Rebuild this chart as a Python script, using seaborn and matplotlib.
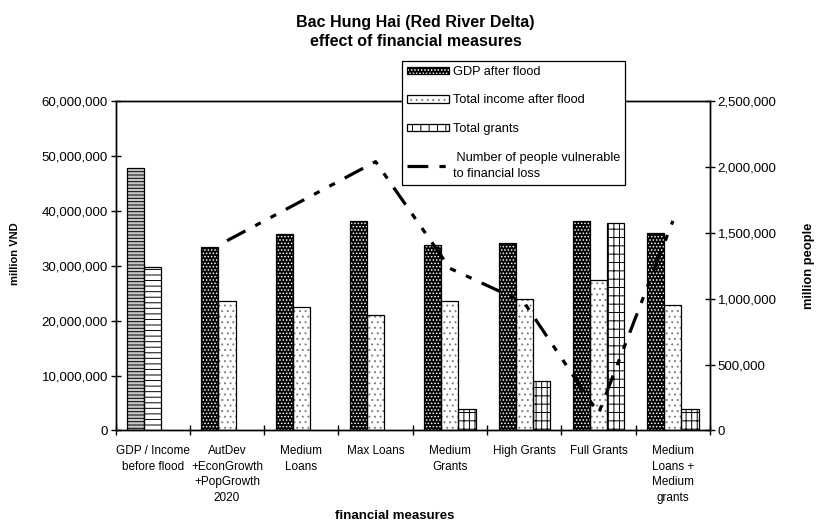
import numpy as np
import pandas as pd
import matplotlib
matplotlib.use("Agg")
import matplotlib.pyplot as plt
import seaborn as sns
from matplotlib.patches import Rectangle, Patch
from matplotlib.lines import Line2D
from matplotlib.legend_handler import HandlerTuple
from matplotlib.ticker import FuncFormatter, FixedLocator

sns.set_theme(style="white")
plt.rcParams["font.family"] = ["Liberation Sans", "DejaVu Sans"]
plt.rcParams["hatch.linewidth"] = 0.7
plt.rcParams["lines.scale_dashes"] = False

# ---- data -------------------------------------------------------------
categories = [
    "GDP / Income\nbefore flood",
    "AutDev\n+EconGrowth\n+PopGrowth\n2020",
    "Medium\nLoans",
    "Max Loans",
    "Medium\nGrants",
    "High Grants",
    "Full Grants",
    "Medium\nLoans +\nMedium\ngrants",
]
gdp_after_flood = [47.8e6, 33.5e6, 35.8e6, 38.2e6, 33.8e6, 34.2e6, 38.2e6, 36.0e6]
income_after_flood = [29.8e6, 23.5e6, 22.4e6, 21.0e6, 23.6e6, 24.0e6, 27.4e6, 22.9e6]
total_grants = [None, None, None, None, 4.0e6, 9.0e6, 37.7e6, 4.0e6]
people_vulnerable = [None, 1.44e6, 1.74e6, 2.04e6, 1.23e6, 0.97e6, 0.13e6, 1.59e6]

series_names = ["GDP after flood", "Total income after flood", "Total grants"]
people_label = " Number of people vulnerable\nto financial loss"

left_ticks = [0, 10e6, 20e6, 30e6, 40e6, 50e6, 60e6]
right_ticks = [0, 0.5e6, 1.0e6, 1.5e6, 2.0e6, 2.5e6]

# ---- tidy tables ----------------------------------------------------------
rows = []
for cat, g, inc, gr in zip(categories, gdp_after_flood, income_after_flood, total_grants):
    for name, val in zip(series_names, (g, inc, gr)):
        if val is not None:
            rows.append((cat, name, val))
bars_df = pd.DataFrame(rows, columns=["measure", "series", "value"])

positions = np.arange(len(categories))
line_df = pd.DataFrame({"pos": positions, "people": people_vulnerable}).dropna()

# ---- figure -----------------------------------------------------------
fig = plt.figure(figsize=(8.17, 5.23), dpi=100)
ax = fig.add_axes([0.1414, 0.1769, 0.7277, 0.630])

sns.barplot(data=bars_df, x="measure", y="value", hue="series",
            order=categories, hue_order=series_names, width=0.69,
            dodge=True, legend=False, errorbar=None, saturation=1,
            palette=["black", "white", "white"], ax=ax)

# fill patterns: (face colour, hatch colour, hatch)
styles = {
    "GDP after flood": ("black", "white", "....."),
    "Total income after flood": ("white", "#808080", "..."),
    "Total grants": ("white", "black", "++|"),
}
before_flood_styles = [("#c8c8c8", "black", "-----"), ("white", "black", "---")]

for name, cont in zip(series_names, ax.containers):
    for p in cont:
        h = p.get_height()
        if not np.isfinite(h):
            continue
        idx = int(round(p.get_x() + p.get_width() / 2))
        if idx == 0:
            face, hcol, hatch = before_flood_styles[series_names.index(name)]
        else:
            face, hcol, hatch = styles[name]
        p.set_facecolor(face)
        p.set_edgecolor(hcol)
        p.set_hatch(hatch)
        p.set_linewidth(0)
        ax.add_patch(Rectangle(p.get_xy(), p.get_width(), h, fill=False,
                               edgecolor="black", linewidth=0.9,
                               zorder=p.get_zorder() + 0.1))

ax.set_xlim(-0.5, len(categories) - 0.5)
ax.set_ylim(0, 60e6)
ax.yaxis.set_major_locator(FixedLocator(left_ticks))
ax.yaxis.set_major_formatter(FuncFormatter(lambda v, _: f"{v:,.0f}"))
ax.set_xticks(positions, categories, linespacing=1.4)
ax.xaxis.set_minor_locator(FixedLocator(np.arange(len(categories) + 1) - 0.5))
ax.tick_params(axis="x", which="major", length=0, pad=10.5, labelsize=8.5,
               labelcolor="black")
ax.tick_params(axis="x", which="minor", bottom=True, direction="inout",
               length=7, width=1, color="black")
ax.tick_params(axis="y", left=True, direction="inout", length=7, width=1,
               color="black", pad=2, labelsize=9.5, labelcolor="black")
ax.set_xlabel("")
ax.set_ylabel("")
for s in ax.spines.values():
    s.set_visible(True)
    s.set_color("black")
    s.set_linewidth(1.0)

# ---- people line on secondary axis -----------------------------------
ax2 = ax.twinx()
sns.lineplot(data=line_df, x="pos", y="people", ax=ax2, color="black",
             linewidth=2.3, legend=False)
dash_seq = [15, 8, 4.5, 8, 4.5, 8]
for ln in ax2.get_lines():
    ln.set_dashes(dash_seq)
    ln.set_dash_capstyle("butt")
ax2.set_ylim(0, 2.5e6)
ax2.set_xlim(-0.5, len(categories) - 0.5)
ax2.yaxis.set_major_locator(FixedLocator(right_ticks))
ax2.yaxis.set_major_formatter(FuncFormatter(lambda v, _: f"{v:,.0f}"))
ax2.tick_params(axis="y", right=True, direction="inout", length=7, width=1,
                color="black", pad=2, labelsize=9.5, labelcolor="black")
ax2.set_ylabel("")
ax2.set_xlabel("")
for s in ax2.spines.values():
    s.set_color("black")
    s.set_linewidth(1.0)

# ---- texts ------------------------------------------------------------
fig.text(0.5086, 1 - 32 / 523, "Bac Hung Hai (Red River Delta)\neffect of financial measures",
         ha="center", va="center", fontsize=11.5, fontweight="bold",
         linespacing=1.3, color="black")
fig.text(15 / 817, 1 - 254 / 523, "million VND", rotation=90, ha="center",
         va="center", fontsize=8, fontweight="bold", color="black")
fig.text(809 / 817, 1 - 266 / 523, "million people", rotation=90, ha="center",
         va="center", fontsize=9.3, fontweight="bold", color="black")
fig.text(395 / 817, 1 - 516 / 523, "financial measures", ha="center",
         va="center", fontsize=9.5, fontweight="bold", color="black")

# ---- legend -------------------------------------------------------------
def bar_handle(face, hcol, hatch):
    return (Patch(facecolor=face, edgecolor=hcol, hatch=hatch, linewidth=0),
            Patch(fill=False, edgecolor="black", linewidth=0.9))

legend_styles = dict(styles)
legend_styles["Total grants"] = ("white", "black", "||")
handles = [bar_handle(*legend_styles[n]) for n in series_names]
handles.append(Line2D([], [], color="black", linewidth=2.3, dashes=dash_seq,
                      dash_capstyle="butt"))
labels = series_names + [people_label]
leg = fig.legend(handles, labels, loc="upper left",
                 bbox_to_anchor=(401.7 / 817, 1 - 60.7 / 523),
                 bbox_transform=fig.transFigure, borderaxespad=0,
                 handler_map={tuple: HandlerTuple(ndivide=1, pad=0)},
                 fontsize=9.2, frameon=True, fancybox=False, framealpha=1,
                 edgecolor="black", handlelength=3.3, handleheight=0.5,
                 handletextpad=0.3, borderpad=0.4, labelspacing=1.3)
leg.get_frame().set_linewidth(0.9)
for t in leg.get_texts():
    t.set_color("black")
    t.set_linespacing(1.45)

fig.savefig("out.png", dpi=100)
